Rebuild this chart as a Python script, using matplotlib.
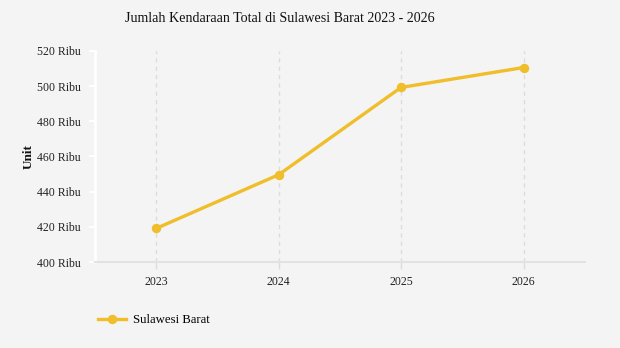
import matplotlib.pyplot as plt
from matplotlib.ticker import FuncFormatter

# Total vehicles, Sulawesi Barat (in thousands)
years = [2023, 2024, 2025, 2026]
totals = [419.1, 449.6, 499.2, 510.5]
series_name = "Sulawesi Barat"
y_ticks = [400, 420, 440, 460, 480, 500, 520]

plt.rcParams["font.family"] = ["Liberation Serif", "DejaVu Serif"]

bg = "#f4f4f4"
line_color = "#f0be2a"

fig = plt.figure(figsize=(6.2, 3.48), dpi=100)
fig.patch.set_facecolor(bg)
ax = fig.add_axes([0.1532, 0.247, 0.790, 0.607])
ax.set_facecolor(bg)

line, = ax.plot(years, totals, color=line_color, linewidth=2.4, marker="o",
                markersize=5.8, label=series_name, zorder=3)

ax.set_xlim(2022.5, 2026.5)
ax.set_ylim(400, 520)
ax.set_xticks(years)
ax.set_yticks(y_ticks)
ax.yaxis.set_major_formatter(FuncFormatter(lambda v, _: f"{v:.0f} Ribu"))

# dashed vertical grid only
ax.xaxis.grid(True, color="#dcdcdc", linestyle=(0, (3, 3)), linewidth=1)
ax.yaxis.grid(False)

for s in ("top", "right"):
    ax.spines[s].set_visible(False)
ax.spines["left"].set_color("white")
ax.spines["left"].set_linewidth(2)
ax.spines["bottom"].set_color("#e2e2e2")
ax.spines["bottom"].set_linewidth(1.5)

ax.tick_params(axis="y", colors="white", labelcolor="#222222", length=4,
               width=1.5, pad=6, labelsize=8.5)
ax.tick_params(axis="x", colors="#dcdcdc", labelcolor="#222222", length=5,
               width=1, pad=5, labelsize=8.5)

ax.set_ylabel("Unit", fontsize=9.5, fontweight="bold", color="#111111", labelpad=2)

fig.text(0.451, 0.947, "Jumlah Kendaraan Total di Sulawesi Barat 2023 - 2026",
         ha="center", va="center", fontsize=10.1, color="#111111")

fig.legend(handles=[line], loc="center left", bbox_to_anchor=(0.14, 0.08),
           frameon=False, fontsize=9.2, handlelength=2.2, handletextpad=0.55)

fig.savefig("out.png", dpi=100, facecolor=bg)
